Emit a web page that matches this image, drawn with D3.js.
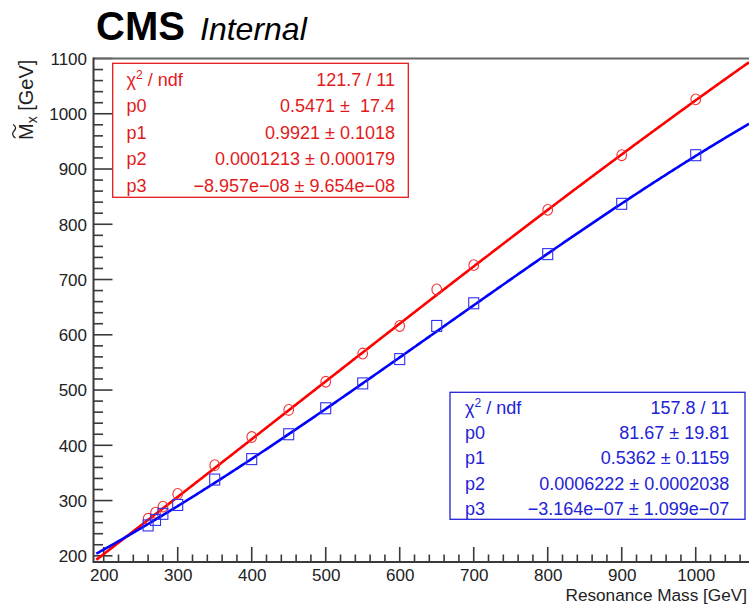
<!DOCTYPE html>
<html>
<head>
<meta charset="utf-8">
<script src="https://cdn.jsdelivr.net/npm/d3@7"></script>
<style>
  html, body { margin: 0; padding: 0; background: #fff; }
  svg { display: block; font-family: "Liberation Sans", Arial, Helvetica, sans-serif; }
  text { white-space: pre; }
</style>
</head>
<body>
<svg id="chart" width="749" height="605"></svg>
<script>
// Generated resonance mass points [GeV]
const massPoints = [260, 270, 280, 300, 350, 400, 450, 500, 550, 600, 650, 700, 800, 900, 1000];
// Reconstructed M~x means, two selections
const redValues  = [267, 278, 289, 312, 364, 415, 464, 515, 566, 616, 682, 726, 826, 925, 1026];
const blueValues = [255, 265, 276, 292, 338, 375, 420, 467, 512, 556, 616, 657, 746, 837, 925];

// pol3 fit results (p0..p3)
const redFitParams  = [0.5471, 0.9921, 0.0001213, -8.957e-08];
const blueFitParams = [81.67, 0.5362, 0.0006222, -3.164e-07];
const fitStart = 190;

// Fit statistics boxes
const statNames = ["p0", "p1", "p2", "p3"];
const redStatValues  = ["121.7 / 11", "0.5471 \u00b1  17.4", "0.9921 \u00b1 0.1018",
                        "0.0001213 \u00b1 0.000179", "\u22128.957e\u221208 \u00b1 9.654e\u221208"];
const blueStatValues = ["157.8 / 11", "81.67 \u00b1 19.81", "0.5362 \u00b1 0.1159",
                        "0.0006222 \u00b1 0.0002038", "\u22123.164e\u221207 \u00b1 1.099e\u221207"];

// Axis ticks
const xMajorTicks = [200, 300, 400, 500, 600, 700, 800, 900, 1000];
const yMajorTicks = [200, 300, 400, 500, 600, 700, 800, 900, 1000, 1100];
const xDomain = [186.2, 1072];
const yDomain = [188.8, 1100];

const svg = d3.select("#chart");
const W = 749, H = 605;
const frame = { left: 93.5, right: 749, top: 58.5, bottom: 562 };

svg.append("rect").attr("width", W).attr("height", H).attr("fill", "#fff");

const x = d3.scaleLinear().domain(xDomain).range([frame.left, frame.right]);
const y = d3.scaleLinear().domain(yDomain).range([frame.bottom, frame.top]);

const red = "#ff0000", blue = "#0000ff";
const redText = "#e31a1c", blueText = "#2323d6";

// clip region for curves
svg.append("clipPath").attr("id", "plotArea")
  .append("rect")
  .attr("x", frame.left).attr("y", frame.top)
  .attr("width", frame.right - frame.left).attr("height", frame.bottom - frame.top);

// ---- frame & ticks ----
const axisColor = "#3a3a3a";
const fmt = d3.format("d");

// minor ticks every 20 GeV
const xMinor = d3.range(200, xDomain[1], 20).filter(v => !xMajorTicks.includes(v));
const yMinor = d3.range(200, yDomain[1] + 0.1, 20).filter(v => !yMajorTicks.includes(v));

const xAxis = d3.axisBottom(x).tickValues(xMajorTicks).tickFormat(fmt).tickSize(0).tickPadding(0);
const yAxis = d3.axisLeft(y).tickValues(yMajorTicks).tickFormat(fmt).tickSize(0).tickPadding(0);

const gx = svg.append("g").attr("transform", `translate(0,${frame.bottom})`).call(xAxis);
gx.select(".domain").remove();
gx.selectAll("text")
  .attr("y", 18.5).attr("dy", 0)
  .attr("font-size", 17).attr("fill", "#222")
  .attr("font-family", "'Liberation Sans', Arial, sans-serif");

const gy = svg.append("g").attr("transform", `translate(${frame.left},0)`).call(yAxis);
gy.select(".domain").remove();
gy.selectAll("text")
  .attr("x", -6.5).attr("dy", "0.35em")
  .attr("font-size", 17).attr("fill", "#222")
  .attr("font-family", "'Liberation Sans', Arial, sans-serif");

// inward tick marks
const ticks = svg.append("g").attr("stroke", axisColor).attr("stroke-width", 1.6);
ticks.selectAll(".xmaj").data(xMajorTicks).join("line")
  .attr("x1", d => x(d)).attr("x2", d => x(d))
  .attr("y1", frame.bottom).attr("y2", frame.bottom - 15);
ticks.selectAll(".xmin").data(xMinor).join("line")
  .attr("x1", d => x(d)).attr("x2", d => x(d))
  .attr("y1", frame.bottom).attr("y2", frame.bottom - 7.5);
ticks.selectAll(".ymaj").data(yMajorTicks).join("line")
  .attr("x1", frame.left).attr("x2", frame.left + 19)
  .attr("y1", d => y(d)).attr("y2", d => y(d));
ticks.selectAll(".ymin").data(yMinor).join("line")
  .attr("x1", frame.left).attr("x2", frame.left + 9.5)
  .attr("y1", d => y(d)).attr("y2", d => y(d));

// frame lines
svg.append("line").attr("x1", frame.left).attr("x2", W)
  .attr("y1", frame.top).attr("y2", frame.top)
  .attr("stroke", "#666").attr("stroke-width", 2);
svg.append("line").attr("x1", frame.left).attr("x2", W)
  .attr("y1", frame.bottom).attr("y2", frame.bottom)
  .attr("stroke", axisColor).attr("stroke-width", 2);
svg.append("line").attr("x1", frame.left).attr("x2", frame.left)
  .attr("y1", frame.top - 1).attr("y2", frame.bottom + 1)
  .attr("stroke", axisColor).attr("stroke-width", 2);

// ---- axis titles ----
svg.append("text")
  .attr("x", 747).attr("y", 601.2)
  .attr("text-anchor", "end")
  .attr("font-size", 17.2).attr("fill", "#222")
  .text("Resonance Mass [GeV]");

const yTitle = svg.append("g").attr("transform", "translate(33,140) rotate(-90)");
const yt = yTitle.append("text").attr("x", 0).attr("y", 0)
  .attr("font-size", 20).attr("fill", "#222");
yt.append("tspan").text("M");
yt.append("tspan").attr("font-size", 14).attr("dy", 4).text("x");
yt.append("tspan").attr("dy", -4).text(" [GeV]");
// tilde accent over the M
yTitle.append("path")
  .attr("d", "M2,-17.5 C4.5,-21 7,-21 9,-19 S13.5,-16.5 15.5,-20")
  .attr("fill", "none").attr("stroke", "#222").attr("stroke-width", 1.3);

// ---- title ----
const title = svg.append("text").attr("x", 96).attr("y", 39.5).attr("fill", "#000");
title.append("tspan").attr("font-weight", "bold").attr("font-size", 40).text("CMS");
title.append("tspan").attr("font-style", "italic").attr("font-size", 32)
  .attr("x", 200).attr("y", 39.5).text("Internal");

// ---- fit curves ----
const pol3 = p => m => p[0] + p[1] * m + p[2] * m * m + p[3] * m * m * m;
const curveX = d3.range(fitStart, xDomain[1] + 1, 2);
const line = d3.line().x(d => x(d[0])).y(d => y(d[1]));

function drawFit(params, color) {
  const f = pol3(params);
  svg.append("path")
    .attr("clip-path", "url(#plotArea)")
    .attr("d", line(curveX.map(m => [m, f(m)])))
    .attr("fill", "none").attr("stroke", color).attr("stroke-width", 2.6);
}

// ---- markers ----
const redPts = massPoints.map((m, i) => [m, redValues[i]]);
const bluePts = massPoints.map((m, i) => [m, blueValues[i]]);

drawFit(redFitParams, red);
svg.append("g").selectAll("ellipse").data(redPts).join("ellipse")
  .attr("cx", d => x(d[0])).attr("cy", d => y(d[1]))
  .attr("rx", 4.8).attr("ry", 5.4)
  .attr("fill", "none").attr("stroke", "#f03030").attr("stroke-width", 1.1);

drawFit(blueFitParams, blue);
svg.append("g").selectAll("rect").data(bluePts).join("rect")
  .attr("x", d => x(d[0]) - 5).attr("y", d => y(d[1]) - 5.5)
  .attr("width", 10).attr("height", 11)
  .attr("fill", "none").attr("stroke", "#3030f0").attr("stroke-width", 1.1);

// ---- stat boxes ----
function statBox(box, color, values) {
  const g = svg.append("g");
  g.append("rect")
    .attr("x", box.x0).attr("y", box.y0)
    .attr("width", box.x1 - box.x0).attr("height", box.y1 - box.y0)
    .attr("fill", "#fff").attr("stroke", color).attr("stroke-width", 1.3);
  const labels = ["chi2"].concat(statNames);
  labels.forEach((lab, i) => {
    const by = box.base + i * box.step;
    const t = g.append("text").attr("x", box.tx).attr("y", by)
      .attr("font-size", 18).attr("fill", color);
    if (lab === "chi2") {
      t.append("tspan").text("\u03c7");
      t.append("tspan").attr("font-size", 12).attr("dy", -7).text("2");
      t.append("tspan").attr("dy", 7).text(" / ndf");
    } else {
      t.text(lab);
    }
    g.append("text").attr("x", box.vx).attr("y", by)
      .attr("text-anchor", "end")
      .attr("font-size", 18).attr("fill", color)
      .text(values[i]);
  });
}

statBox({ x0: 112.7, y0: 63.3, x1: 408.3, y1: 197.3, tx: 126.5, vx: 395,
          base: 85.5, step: 26.5 }, redText, redStatValues);
statBox({ x0: 450, y0: 392.3, x1: 745, y1: 519.3, tx: 465, vx: 729.3,
          base: 413.5, step: 25.4 }, blueText, blueStatValues);
</script>
</body>
</html>
